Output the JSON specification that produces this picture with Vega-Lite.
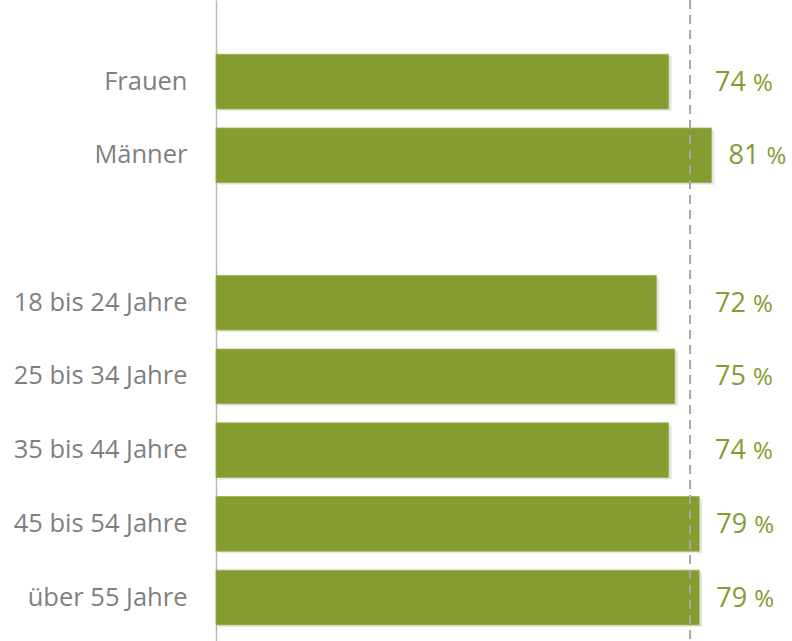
{
  "$schema": "https://vega.github.io/schema/vega-lite/v6.json",
  "width": 575,
  "height": 641,
  "autosize": "none",
  "padding": {"left": 216, "top": 0, "right": 1, "bottom": 0},
  "background": "white",
  "config": {"view": {"stroke": null}, "font": "Open Sans"},
  "datasets": {
    "rows": [
      {"cat": "Frauen", "value": 74},
      {"cat": "Männer", "value": 81},
      {"cat": "18 bis 24 Jahre", "value": 72},
      {"cat": "25 bis 34 Jahre", "value": 75},
      {"cat": "35 bis 44 Jahre", "value": 74},
      {"cat": "45 bis 54 Jahre", "value": 79},
      {"cat": "über 55 Jahre", "value": 79}
    ],
    "avg": [{"avg": 77.5}]
  },
  "resolve": {"scale": {"x": "shared"}},
  "layer": [
    {
      "data": {"name": "rows"},
      "mark": {"type": "bar", "color": "#d6d6d6", "opacity": 0.6, "xOffset": 3, "yOffset": 2},
      "encoding": {
        "y": {
          "field": "cat", "type": "nominal", "sort": null,
          "scale": {
            "domain": ["Frauen", "Männer", " ", "18 bis 24 Jahre", "25 bis 34 Jahre", "35 bis 44 Jahre", "45 bis 54 Jahre", "über 55 Jahre"],
            "paddingInner": 0.258, "paddingOuter": 0.4775, "align": 0.771
          },
          "axis": {
            "title": null, "ticks": false, "grid": false,
            "domainColor": "#b8b8b8", "domainWidth": 1.5,
            "labelFontSize": 25.5, "labelColor": "#7f7f7f", "labelFont": "Open Sans",
            "labelPadding": 29
          }
        },
        "x": {"field": "value", "type": "quantitative", "scale": {"domain": [0, 94], "nice": false, "zero": true}, "axis": null}
      }
    },
    {
      "data": {"name": "rows"},
      "mark": {"type": "bar", "color": "#849c30", "stroke": "#9db24f", "strokeWidth": 0.8},
      "encoding": {
        "y": {"field": "cat", "type": "nominal", "sort": null},
        "x": {"field": "value", "type": "quantitative"}
      }
    },
    {
      "data": {"name": "rows"},
      "transform": [{"calculate": "max(datum.value, 78.8)", "as": "labelX"}],
      "mark": {"type": "text", "align": "left", "baseline": "middle", "dx": 17, "dy": 1, "fontSize": 27, "color": "#849c30", "font": "Open Sans"},
      "encoding": {
        "y": {"field": "cat", "type": "nominal", "sort": null},
        "x": {"field": "labelX", "type": "quantitative"},
        "text": {"field": "value", "type": "quantitative"}
      }
    },
    {
      "data": {"name": "rows"},
      "transform": [{"calculate": "max(datum.value, 78.8)", "as": "labelX"}],
      "mark": {"type": "text", "align": "left", "baseline": "middle", "dx": 55, "dy": 2, "fontSize": 24, "color": "#849c30", "font": "Open Sans"},
      "encoding": {
        "y": {"field": "cat", "type": "nominal", "sort": null},
        "x": {"field": "labelX", "type": "quantitative"},
        "text": {"value": "%"}
      }
    },
    {
      "data": {"name": "avg"},
      "mark": {"type": "rule", "color": "#a6a6a6", "strokeWidth": 2, "strokeDash": [9, 6]},
      "encoding": {"x": {"field": "avg", "type": "quantitative"}}
    }
  ]
}
